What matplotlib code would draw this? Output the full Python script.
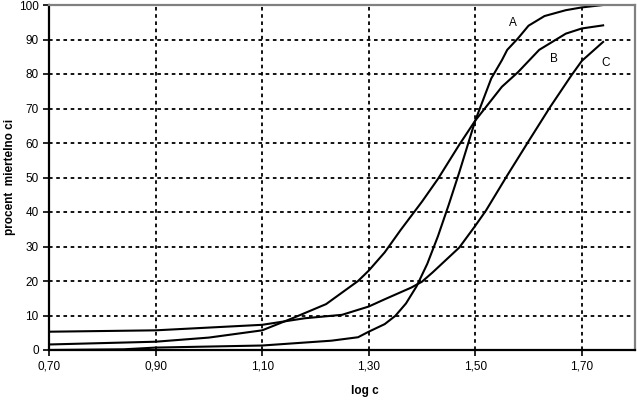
import matplotlib.pyplot as plt

plt.rcParams['font.family'] = ['Liberation Sans', 'DejaVu Sans']

# krzywe A, B, C (log c -> procent)
x_a = [0.70, 0.84, 0.90, 1.10, 1.23, 1.28, 1.30, 1.33, 1.35, 1.37, 1.39, 1.41, 1.43,
       1.45, 1.47, 1.49, 1.50, 1.53, 1.55, 1.56, 1.58, 1.60, 1.63, 1.67, 1.70, 1.74]
y_a = [0.0, 0.2, 0.7, 1.3, 2.7, 3.7, 5.3, 7.5, 9.9, 13.5, 18.5, 25.0, 33.0,
       42.0, 51.5, 61.5, 66.5, 78.7, 84.0, 87.0, 90.3, 94.0, 96.8, 98.5, 99.3, 100.0]

x_b = [0.70, 0.90, 1.00, 1.10, 1.16, 1.22, 1.28, 1.30, 1.33, 1.36, 1.40, 1.43,
       1.47, 1.50, 1.55, 1.58, 1.62, 1.67, 1.70, 1.74]
y_b = [1.6, 2.4, 3.6, 5.7, 9.4, 13.3, 20.0, 23.0, 28.3, 34.8, 43.0, 49.6,
       59.5, 66.5, 76.3, 80.5, 87.0, 91.7, 93.2, 94.1]

x_c = [0.70, 0.90, 1.10, 1.18, 1.25, 1.30, 1.33, 1.38, 1.40, 1.42, 1.47, 1.50,
       1.52, 1.56, 1.60, 1.64, 1.68, 1.70, 1.74]
y_c = [5.3, 5.7, 7.3, 9.2, 10.2, 12.6, 14.7, 18.1, 19.8, 22.5, 29.7, 36.0,
       40.4, 50.6, 60.5, 70.3, 79.5, 83.8, 89.3]

labels = ['A', 'B', 'C']
label_pos = [(1.571, 94.8), (1.648, 84.3), (1.744, 83.1)]

x_ticks = [0.70, 0.90, 1.10, 1.30, 1.50, 1.70]
y_ticks = list(range(0, 101, 10))

fig = plt.figure(figsize=(6.37, 4.0), dpi=100)
ax = fig.add_axes([0.077, 0.125, 0.92, 0.8625])

ax.plot(x_a, y_a, color='black', linewidth=1.5)
ax.plot(x_b, y_b, color='black', linewidth=1.5)
ax.plot(x_c, y_c, color='black', linewidth=1.5)

for lab, (lx, ly) in zip(labels, label_pos):
    ax.text(lx, ly, lab, fontsize=8.5, ha='center', va='center')

ax.set_xlim(0.70, 1.80)
ax.set_ylim(0, 100)
ax.set_xticks(x_ticks)
ax.set_xticklabels([f"{t:.2f}".replace('.', ',') for t in x_ticks])
ax.set_yticks(y_ticks)
ax.tick_params(labelsize=8.5, length=4, width=1.2, direction='out')

ax.grid(color='black', linestyle=(0, (2, 2)), linewidth=1.3)
ax.set_axisbelow(True)

for side in ['left', 'bottom']:
    ax.spines[side].set_linewidth(1.6)
    ax.spines[side].set_color('black')
for side in ['top', 'right']:
    ax.spines[side].set_linewidth(1.6)
    ax.spines[side].set_color('gray')

fig.text(365 / 637, 1 - 391 / 400, 'log c', fontsize=8.5, fontweight='bold',
         ha='center', va='center')
fig.text(10 / 637, 1 - 177 / 400, 'procent  miertelno ci', fontsize=8.5,
         fontweight='bold', rotation=90, ha='center', va='center')

fig.savefig('out.png', dpi=100)
